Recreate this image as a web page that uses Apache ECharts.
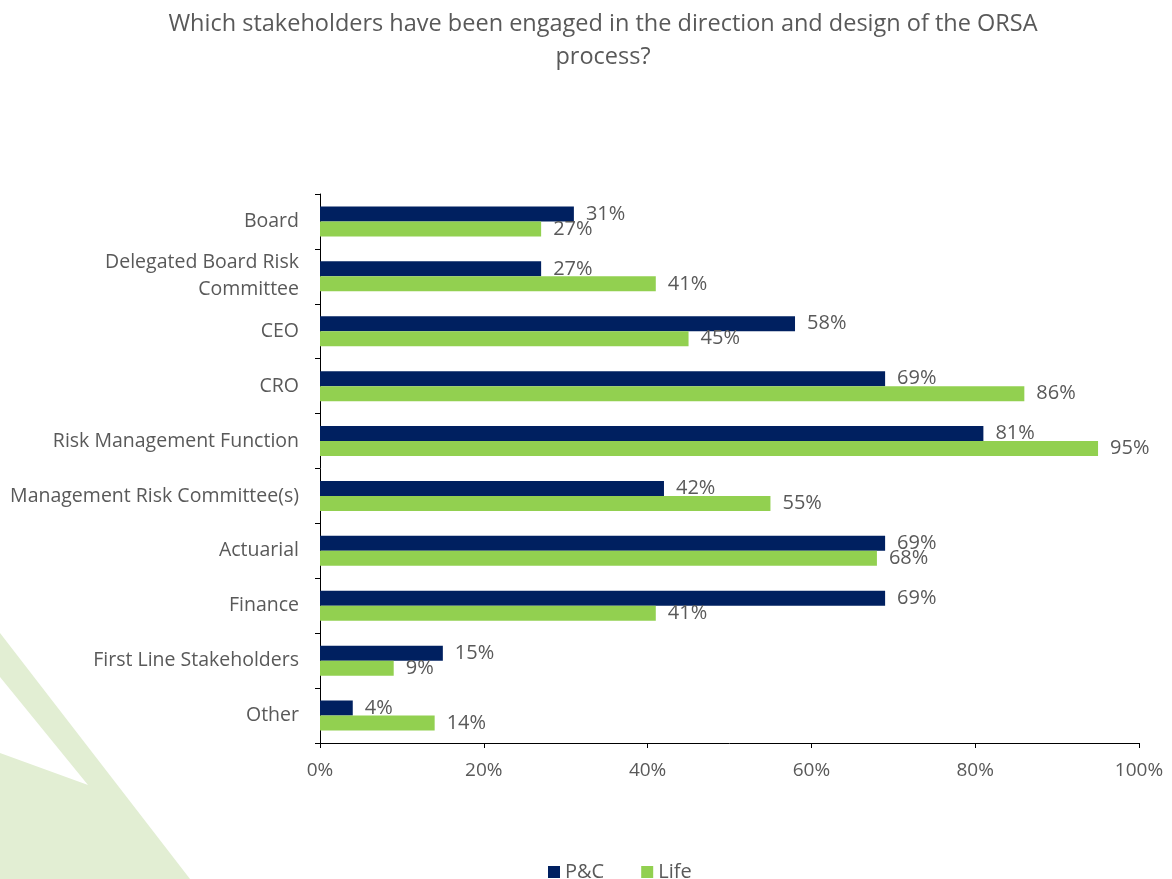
<!DOCTYPE html>
<html>
<head>
<meta charset="utf-8">
<title>ORSA stakeholders</title>
<script src="https://cdn.jsdelivr.net/npm/echarts@6/dist/echarts.min.js"></script>
<style>
  html, body { margin: 0; padding: 0; background: #ffffff; }
  #chart { width: 1172px; height: 879px; }
</style>
</head>
<body>
<div id="chart"></div>
<script>
// Stakeholder groups, listed top to bottom
const categories = [
  'Board',
  'Delegated Board Risk\nCommittee',
  'CEO',
  'CRO',
  'Risk Management Function',
  'Management Risk Committee(s)',
  'Actuarial',
  'Finance',
  'First Line Stakeholders',
  'Other'
];

// Share of respondents (%)
const pcValues   = [31, 27, 58, 69, 81, 42, 69, 69, 15, 4];
const lifeValues = [27, 41, 45, 86, 95, 55, 68, 41, 9, 14];

const xTicks = [0, 20, 40, 60, 80, 100];

const FONT = '"Open Sans", Lato, sans-serif';
const GREY = '#595959';

const chart = echarts.init(document.getElementById('chart'), null, { renderer: 'canvas' });

const labelStyle = {
  show: true,
  position: 'right',
  distance: 12,
  color: GREY,
  fontFamily: FONT,
  fontSize: 20,
  formatter: p => p.value + '%'
};

chart.setOption({
  backgroundColor: '#ffffff',
  animation: false,
  title: {
    text: 'Which stakeholders have been engaged in the direction and design of the ORSA\nprocess?',
    left: 598,
    top: 3,
    textAlign: 'center',
    textStyle: {
      color: GREY,
      fontFamily: FONT,
      fontSize: 23.5,
      fontWeight: 'normal',
      lineHeight: 33,
      align: 'center'
    }
  },
  graphic: [{
    // decorative leaf shape in the lower-left corner
    type: 'polygon',
    z: -10,
    silent: true,
    shape: {
      points: [[0, 633], [190, 879], [0, 879], [0, 753], [88, 785], [0, 677]]
    },
    style: { fill: '#e2eed3' }
  }],
  legend: {
    top: 857,
    left: 543,
    itemWidth: 12,
    itemHeight: 12,
    itemGap: 37,
    icon: 'rect',
    textStyle: { color: GREY, fontFamily: FONT, fontSize: 20 },
    data: ['P&C', 'Life']
  },
  grid: { left: 320, right: 33, top: 194, bottom: 136, containLabel: false },
  xAxis: {
    type: 'value',
    min: xTicks[0],
    max: xTicks[xTicks.length - 1],
    interval: 20,
    splitLine: { show: false },
    axisLine: { show: true, lineStyle: { color: '#000000', width: 1 } },
    axisTick: { show: true, length: 5, lineStyle: { color: '#000000' } },
    axisLabel: {
      color: GREY,
      fontFamily: FONT,
      fontSize: 19,
      margin: 18,
      formatter: v => v + '%'
    }
  },
  yAxis: {
    type: 'category',
    inverse: true,
    data: categories,
    axisLine: { show: true, lineStyle: { color: '#000000', width: 1 } },
    axisTick: { show: true, length: 5, inside: false, lineStyle: { color: '#000000' } },
    axisLabel: {
      color: GREY,
      fontFamily: FONT,
      fontSize: 19.5,
      margin: 21,
      lineHeight: 27,
      align: 'right'
    }
  },
  series: [
    {
      name: 'P&C',
      type: 'bar',
      data: pcValues,
      barWidth: 15,
      barGap: '0%',
      itemStyle: { color: '#002060' },
      label: labelStyle
    },
    {
      name: 'Life',
      type: 'bar',
      data: lifeValues,
      barWidth: 15,
      barGap: '0%',
      itemStyle: { color: '#92d050' },
      label: labelStyle
    }
  ]
});
</script>
</body>
</html>
